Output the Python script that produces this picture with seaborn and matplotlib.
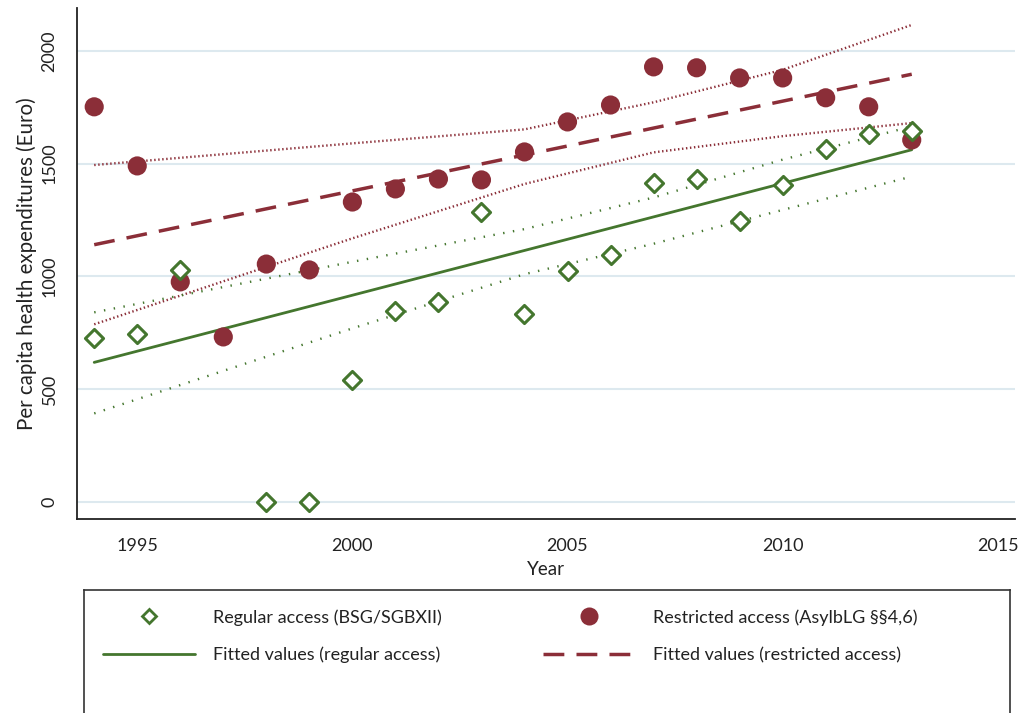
import numpy as np
import pandas as pd
import matplotlib
matplotlib.use('Agg')
import matplotlib.pyplot as plt
import seaborn as sns
from matplotlib.lines import Line2D

# values
years = list(range(1994, 2014))
regular = [727, 745, 1029, np.nan, 0, 0, 541, 847, 887, 1286, 834, 1024,
           1095, 1415, 1432, 1246, 1406, 1565, 1632, 1645]
restricted = [1752, 1490, 976, 732, 1055, 1029, 1330, 1388, 1432, 1428, 1552,
              1685, 1760, 1929, 1925, 1880, 1880, 1792, 1752, 1605]

# confidence band edges, read at a few years
band_years = [1994, 2000, 2004, 2007, 2010, 2013]
restricted_hi = [1494, 1590, 1652, 1772, 1916, 2115]
restricted_lo = [788, 1169, 1410, 1550, 1622, 1680]
regular_hi = [841, 1065, 1210, 1350, 1518, 1665]
regular_lo = [393, 770, 1010, 1145, 1295, 1443]

y_ticks = [0, 500, 1000, 1500, 2000]
x_ticks = [1995, 2000, 2005, 2010, 2015]

green = '#44762e'
red = '#8b2e38'
grid_col = '#dde9ef'
ink = '#222222'

sns.set_style('white')
plt.rcParams['font.family'] = ['Lato', 'DejaVu Sans']

df = pd.DataFrame({'year': years, 'regular': regular, 'restricted': restricted})
bands = pd.DataFrame({'year': band_years, 'res_hi': restricted_hi, 'res_lo': restricted_lo,
                      'reg_hi': regular_hi, 'reg_lo': regular_lo})


def lfit(x, y):
    # straight OLS line over the observed span
    x = np.asarray(x, float)
    y = np.asarray(y, float)
    b, a = np.polyfit(x, y, 1)
    grid = np.array([x.min(), x.max()])
    return pd.DataFrame({'x': grid, 'fit': a + b * grid})


# zeros are missing values in the regular series, the fit leaves them out
reg_ok = df[df['regular'] > 0]
fit_reg = lfit(reg_ok['year'], reg_ok['regular'])
fit_res = lfit(df['year'], df['restricted'])

fig = plt.figure(figsize=(10.19, 7.13), dpi=100)
ax = fig.add_axes([77 / 1019, 1 - 519 / 713, (1015 - 77) / 1019, (519 - 8) / 713])

for t in y_ticks:
    ax.axhline(t, color=grid_col, lw=1.5, zorder=0)

# confidence bands
red_dot = (0, (0.6, 1.1))
green_dot = (0, (0.6, 3.6))
sns.lineplot(data=bands, x='year', y='res_hi', ax=ax, color=red, lw=1.7, linestyle=red_dot)
sns.lineplot(data=bands, x='year', y='res_lo', ax=ax, color=red, lw=1.7, linestyle=red_dot)
sns.lineplot(data=bands, x='year', y='reg_hi', ax=ax, color=green, lw=1.7, linestyle=green_dot)
sns.lineplot(data=bands, x='year', y='reg_lo', ax=ax, color=green, lw=1.7, linestyle=green_dot)

# fitted lines
sns.lineplot(data=fit_reg, x='x', y='fit', ax=ax, color=green, lw=2)
sns.lineplot(data=fit_res, x='x', y='fit', ax=ax, color=red, lw=2.5, linestyle=(0, (6, 3.5)))

# observations
sns.scatterplot(data=df, x='year', y='restricted', ax=ax, color=red, s=190,
                marker='o', edgecolor='none', zorder=5)
sns.scatterplot(data=df, x='year', y='regular', ax=ax, s=85, marker='D',
                facecolor='white', edgecolor=green, linewidth=2.2, zorder=6)

ax.set_xlim(1993.6, 2015.4)
ax.set_ylim(-75, 2190)
ax.set_xticks(x_ticks)
ax.set_yticks(y_ticks)
ax.set_yticklabels([str(t) for t in y_ticks], rotation=90, va='center')
ax.tick_params(axis='both', direction='out', length=8, width=1.2, color=ink,
               labelsize=13, labelcolor=ink, pad=6)
ax.set_xlabel('Year', fontsize=13.5, color=ink, labelpad=5)
ax.set_ylabel('Per capita health expenditures (Euro)', fontsize=14.8, color=ink, labelpad=3)
sns.despine(ax=ax)
for side in ['left', 'bottom']:
    ax.spines[side].set_linewidth(1.3)
    ax.spines[side].set_color(ink)

# legend box, bottom edge runs off the canvas
lax = fig.add_axes([84 / 1019, -0.02, (1010 - 84) / 1019, (713 - 590) / 713 + 0.02])
lax.set_xticks([])
lax.set_yticks([])
for sp in lax.spines.values():
    sp.set_color('#333333')
    sp.set_linewidth(1.2)

col1 = [
    Line2D([], [], linestyle='none', marker='D', markersize=7, markerfacecolor='white',
           markeredgecolor=green, markeredgewidth=2),
    Line2D([], [], color=green, lw=2),
]
col2 = [
    Line2D([], [], linestyle='none', marker='o', markersize=13, markerfacecolor=red,
           markeredgecolor='none'),
    Line2D([], [], color=red, lw=2.5, linestyle=(0, (6, 3.5))),
]
leg_kw = dict(loc='upper left', frameon=False, fontsize=13, handlelength=5.1,
              handletextpad=1.0, labelspacing=1.17, borderaxespad=0, borderpad=0,
              labelcolor=ink)
leg1 = lax.legend(col1, ['Regular access (BSG/SGBXII)', 'Fitted values (regular access)'],
                  bbox_to_anchor=(0.0205, 0.86), **leg_kw)
lax.add_artist(leg1)
lax.legend(col2, ['Restricted access (AsylbLG §§4,6)', 'Fitted values (restricted access)'],
           bbox_to_anchor=(0.4957, 0.86), **leg_kw)

fig.savefig('out.png', dpi=100)
